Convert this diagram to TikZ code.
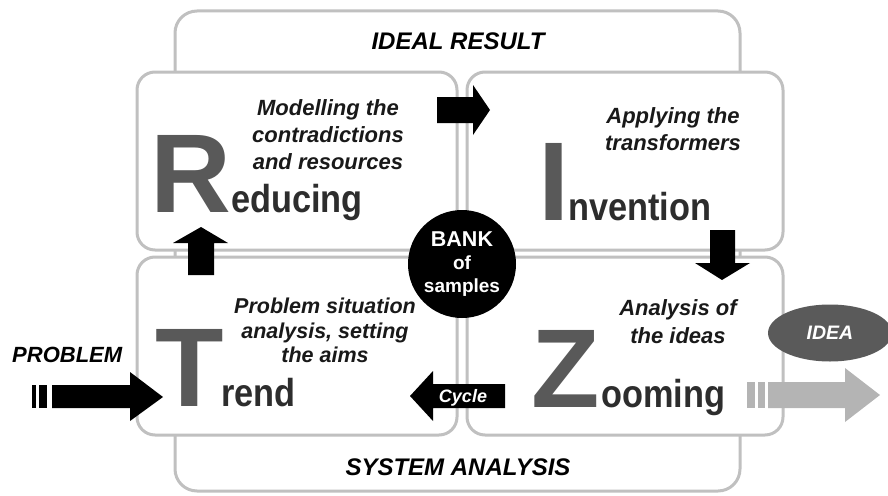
\documentclass[tikz,border=0pt]{standalone}
\usepackage{fontspec}
\setmainfont{Liberation Sans}
\newfontfamily\narrowfont[FakeStretch=0.88]{Liberation Sans}
\usetikzlibrary{positioning, shapes.geometric}

\definecolor{framegray}{RGB}{192,192,192}
\definecolor{lettergray}{RGB}{89,89,89}
\definecolor{wordgray}{RGB}{45,45,45}
\definecolor{ideagray}{RGB}{90,90,90}
\definecolor{exitgray}{RGB}{180,180,180}

\tikzset{
  panel/.style={draw=framegray, line width=3pt, rounded corners=18pt, fill=white},
  stagetext/.style={font=\fontsize{22}{27}\selectfont\bfseries\itshape, align=center, text=black!90, inner sep=0pt, anchor=north},
  headline/.style={font=\fontsize{24}{24}\selectfont\bfseries\itshape, inner sep=0pt, anchor=base},
  bigletter/.style={font=\fontsize{112}{112}\selectfont\bfseries, text=lettergray, anchor=base west, inner sep=0pt},
  stepword/.style={font=\narrowfont\fontsize{39}{39}\selectfont\bfseries, text=wordgray, anchor=base west, inner sep=0pt},
}

\begin{document}
\begin{tikzpicture}[x=1pt, y=-1pt]
  \useasboundingbox (0,0) rectangle (888,495);
  \node[panel, rounded corners=22pt, minimum width=565, minimum height=480] (frame) at (457.5,251) {};
  \node[headline] (ideal) at (458,49) {IDEAL RESULT};
  \node[headline] (sysan) at (458,475) {SYSTEM ANALYSIS};

  % the four stages
  \node[panel, minimum width=320, minimum height=178] (reducing) at (297,161) {};
  \node[panel, minimum width=316, minimum height=178] (invention) at (625,161) {};
  \node[panel, minimum width=320, minimum height=178] (trend) at (297,346) {};
  \node[panel, minimum width=316, minimum height=178] (zooming) at (625,346) {};

  \node[bigletter] (R) at (150,212) {R};
  \node[stepword] (reducingw) at (231,212) {educing};
  \node[stagetext] (reducingt) at (328,99) {Modelling the\\contradictions\\and resources};
  \node[bigletter] (I) at (538,220) {I};
  \node[stepword] (inventionw) at (568,220) {nvention};
  \node[stagetext] (inventiont) at (673,107) {Applying the\\transformers};
  \node[bigletter] (T) at (155,406) {T};
  \node[stepword] (trendw) at (221,406) {rend};
  \node[stagetext, font=\fontsize{21.5}{24.5}\selectfont\bfseries\itshape] (trendt) at (325,298) {Problem situation\\analysis, setting\\the aims};
  \node[bigletter] (Z) at (531,407) {Z};
  \node[stepword] (zoomingw) at (601,407) {ooming};
  \node[stagetext, font=\fontsize{22}{28}\selectfont\bfseries\itshape] (zoomingt) at (678,299) {Analysis of\\the ideas};

  % arrows between the stages
  \fill[black] (437,97) -- (473,97) -- (473,85) -- (490,110) -- (473,135) -- (473,123) -- (437,123) -- cycle;
  \fill[black] (710,230) -- (735,230) -- (735,263) -- (750,263) -- (722,280) -- (695,263) -- (710,263) -- cycle;
  \fill[black] (433,384) -- (505,384) -- (505,408) -- (433,408) -- (433,421) -- (410,396) -- (433,371) -- cycle;
  \fill[black] (188,275) -- (214,275) -- (214,243) -- (228,243) -- (201,227) -- (173,243) -- (188,243) -- cycle;
  \node[font=\fontsize{18}{18}\selectfont\bfseries\itshape, text=white, inner sep=0pt, anchor=base] (cycle) at (463,402.5) {Cycle};

  \node[circle, fill=black, minimum size=108, inner sep=0pt, align=center, text=white,
    font=\fontsize{19}{23}\selectfont\bfseries] (bank) at (462,264) {{\fontsize{21.5}{23}\selectfont BANK}\\of\\samples};

  % input and output
  \node[headline, font=\fontsize{22}{22}\selectfont\bfseries\itshape, anchor=base west] (problem) at (12,362) {PROBLEM};
  \fill[black] (32,385) rectangle (36,408);
  \fill[black] (39,385) rectangle (47,408);
  \fill[black] (52,385) -- (130,385) -- (130,372) -- (163,397) -- (130,421) -- (130,408) -- (52,408) -- cycle;

  \node[ellipse, fill=ideagray, minimum width=124, minimum height=57, inner sep=0pt, text=white,
    font=\fontsize{19.5}{19.5}\selectfont\bfseries\itshape] (idea) at (830,333) {IDEA};
  \fill[exitgray] (747,382) rectangle (755,408);
  \fill[exitgray] (758,382) rectangle (765,408);
  \fill[exitgray] (768,382) -- (845,382) -- (845,368) -- (880,395) -- (845,422) -- (845,408) -- (768,408) -- cycle;
\end{tikzpicture}
\end{document}
